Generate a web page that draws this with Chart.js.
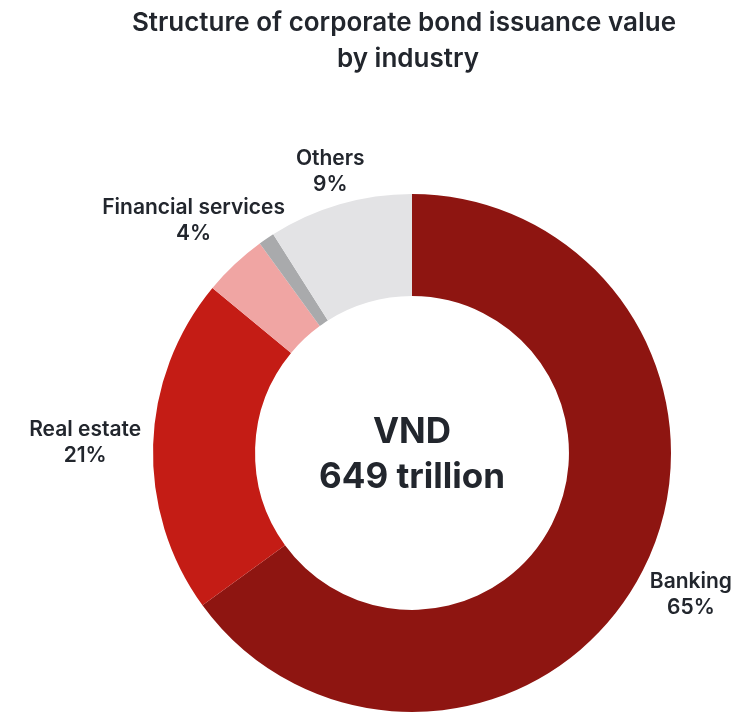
<!DOCTYPE html>
<html>
<head>
<meta charset="utf-8">
<title>Structure of corporate bond issuance value by industry</title>
<script src="https://cdn.jsdelivr.net/npm/chart.js@4/dist/chart.umd.min.js"></script>
<style>
  html, body { margin: 0; padding: 0; background: #ffffff; }
  #wrap { width: 742px; height: 713px; position: relative; }
</style>
</head>
<body>
<div id="wrap"><canvas id="chart" width="742" height="713"></canvas></div>
<script>
// Issuance value by industry, share of total (%)
const categories = ['Banking', 'Real estate', 'Financial services', 'Unspecified', 'Others'];
const shares = [65, 21, 4, 1, 9];
// Slices that carry an outside label (the thin grey sliver has none)
const labelled = [true, true, true, false, true];
const titleLines = ['Structure of corporate bond issuance value', 'by industry'];
const centerLines = ['VND', '649 trillion'];

const colors = ['#8e1511', '#c41c15', '#f0a5a3', '#a9aaac', '#e3e3e5'];
const textColor = '#22262d';
const fontFamily = 'Inter, "Open Sans", "DejaVu Sans", sans-serif';

// Extra distance of each label block beyond the ring's outer edge
const labelGap = [54, 68, 60, 0, 34];

const annotate = {
  id: 'annotate',
  afterDraw(chart) {
    const ctx = chart.ctx;
    const arcs = chart.getDatasetMeta(0).data;
    ctx.save();
    ctx.fillStyle = textColor;
    ctx.textAlign = 'center';
    ctx.textBaseline = 'middle';

    // Title
    ctx.font = '600 26px ' + fontFamily;
    ctx.fillText(titleLines[0], 404, 23);
    ctx.fillText(titleLines[1], 408, 59);

    // Outside labels at each slice's mid-angle
    ctx.font = '600 21px ' + fontFamily;
    arcs.forEach((arc, i) => {
      if (!labelled[i]) return;
      const p = arc.getProps(['x', 'y', 'startAngle', 'endAngle', 'outerRadius'], true);
      const mid = (p.startAngle + p.endAngle) / 2;
      const r = p.outerRadius + labelGap[i];
      const cx = p.x + Math.cos(mid) * r;
      const cy = p.y + Math.sin(mid) * r;
      ctx.fillText(categories[i], cx, cy - 13);
      ctx.fillText(shares[i] + '%', cx, cy + 13);
    });

    // Total in the hole
    const c = arcs[0];
    ctx.font = '700 35px ' + fontFamily;
    ctx.fillText(centerLines[0], c.x, c.y - 21);
    ctx.fillText(centerLines[1], c.x, c.y + 24);
    ctx.restore();
  }
};

new Chart(document.getElementById('chart'), {
  type: 'doughnut',
  data: {
    labels: categories,
    datasets: [{
      data: shares,
      backgroundColor: colors,
      borderWidth: 0,
      hoverOffset: 0
    }]
  },
  options: {
    responsive: false,
    animation: false,
    cutout: '60.6%',
    rotation: 0,
    layout: { padding: { left: 153, right: 71, top: 194, bottom: 1 } },
    plugins: {
      legend: { display: false },
      tooltip: { enabled: false },
      title: { display: false }
    }
  },
  plugins: [annotate]
});
</script>
</body>
</html>
